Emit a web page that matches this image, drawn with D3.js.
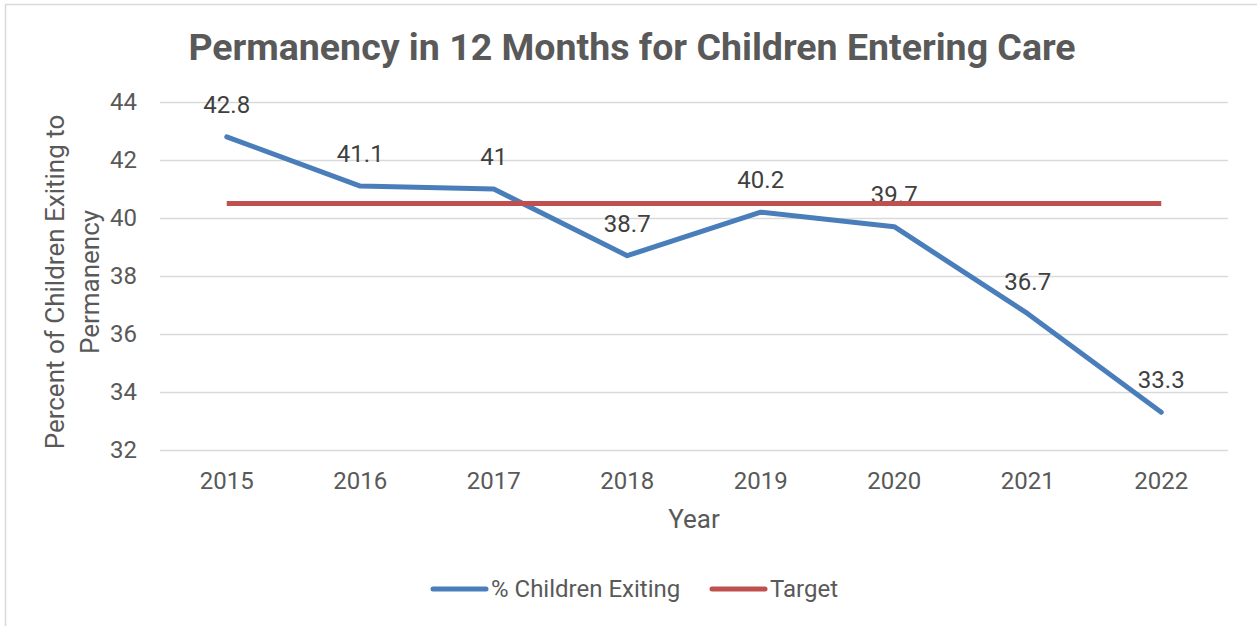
<!DOCTYPE html>
<html>
<head>
<meta charset="utf-8">
<script src="https://cdn.jsdelivr.net/npm/d3@7"></script>
<style>
  html, body { margin: 0; padding: 0; background: #fff; }
  svg { display: block; font-family: Roboto, "Noto Sans", sans-serif; }
</style>
</head>
<body>
<svg id="chart" width="1257" height="626"></svg>
<script>
// Permanency within 12 months, by fiscal year
const years = ["2015", "2016", "2017", "2018", "2019", "2020", "2021", "2022"];
const exitingPct = [42.8, 41.1, 41, 38.7, 40.2, 39.7, 36.7, 33.3];
const targetPct = [40.5, 40.5, 40.5, 40.5, 40.5, 40.5, 40.5, 40.5];
const yTicks = [32, 34, 36, 38, 40, 42, 44];
const seriesNames = ["% Children Exiting", "Target"];

const W = 1257, H = 626;
const margin = { left: 160, right: 29, top: 102, bottom: 176 };
const textColor = "#595959";
const gridColor = "#d9d9d9";
const blue = "#4a7ebb";
const red = "#c0504d";

const svg = d3.select("#chart");

// chart frame
svg.append("path")
  .attr("d", `M5.5,${H} V4.5 H${W}`)
  .attr("fill", "none")
  .attr("stroke", gridColor)
  .attr("stroke-width", 1.5);

const x = d3.scaleBand()
  .domain(years)
  .range([margin.left, W - margin.right]);

const y = d3.scaleLinear()
  .domain([32, 44])
  .range([H - margin.bottom, margin.top]);

// title
svg.append("text")
  .attr("x", 632)
  .attr("y", 60)
  .attr("text-anchor", "middle")
  .attr("font-size", 37.5)
  .attr("font-weight", "bold")
  .attr("fill", textColor)
  .text("Permanency in 12 Months for Children Entering Care");

// gridlines + y tick labels
const yAxis = d3.axisLeft(y)
  .tickValues(yTicks)
  .tickSize(-(W - margin.left - margin.right))
  .tickPadding(23);

const gy = svg.append("g")
  .attr("transform", `translate(${margin.left},0)`)
  .call(yAxis);
gy.select(".domain").remove();
gy.selectAll(".tick line").attr("stroke", gridColor).attr("stroke-width", 1.5);
gy.selectAll(".tick text")
  .attr("fill", textColor)
  .attr("font-size", 24)
  .attr("font-family", "Roboto, sans-serif");

// x tick labels
const xAxis = d3.axisBottom(x).tickSize(0).tickPadding(22);
const gx = svg.append("g")
  .attr("transform", `translate(0,${H - margin.bottom})`)
  .call(xAxis);
gx.select(".domain").remove();
gx.selectAll(".tick text")
  .attr("fill", textColor)
  .attr("font-size", 24)
  .attr("font-family", "Roboto, sans-serif");

// axis titles
svg.append("text")
  .attr("x", 694)
  .attr("y", 528)
  .attr("text-anchor", "middle")
  .attr("font-size", 26)
  .attr("fill", textColor)
  .text("Year");

const yTitle = svg.append("text")
  .attr("transform", `translate(64,282) rotate(-90)`)
  .attr("text-anchor", "middle")
  .attr("font-size", 26)
  .attr("fill", textColor);
yTitle.append("tspan").attr("x", 0).attr("dy", 0).text("Percent of Children Exiting to");
yTitle.append("tspan").attr("x", 0).attr("dy", 35).text("Permanency");

const cx = d => x(d) + x.bandwidth() / 2;

const line = d3.line()
  .x((d, i) => cx(years[i]))
  .y(d => y(d));

// main series
svg.append("path")
  .datum(exitingPct)
  .attr("d", line)
  .attr("fill", "none")
  .attr("stroke", blue)
  .attr("stroke-width", 5)
  .attr("stroke-linecap", "round")
  .attr("stroke-linejoin", "round");

// value labels
svg.append("g")
  .selectAll("text")
  .data(exitingPct)
  .join("text")
  .attr("x", (d, i) => cx(years[i]))
  .attr("y", d => y(d) - 24)
  .attr("text-anchor", "middle")
  .attr("font-size", 24)
  .attr("fill", "#404040")
  .text(d => d);

// target series
svg.append("path")
  .datum(targetPct)
  .attr("d", line)
  .attr("fill", "none")
  .attr("stroke", red)
  .attr("stroke-width", 5)
  .attr("stroke-linecap", "butt");

// legend
const legendItems = [
  { name: seriesNames[0], color: blue, x0: 433 },
  { name: seriesNames[1], color: red, x0: 712 }
];
const lg = svg.append("g");
legendItems.forEach(it => {
  lg.append("line")
    .attr("x1", it.x0).attr("x2", it.x0 + 53)
    .attr("y1", 589).attr("y2", 589)
    .attr("stroke", it.color)
    .attr("stroke-width", 5)
    .attr("stroke-linecap", "round");
  lg.append("text")
    .attr("x", it.x0 + 58)
    .attr("y", 597)
    .attr("font-size", 24)
    .attr("fill", textColor)
    .text(it.name);
});
</script>
</body>
</html>
